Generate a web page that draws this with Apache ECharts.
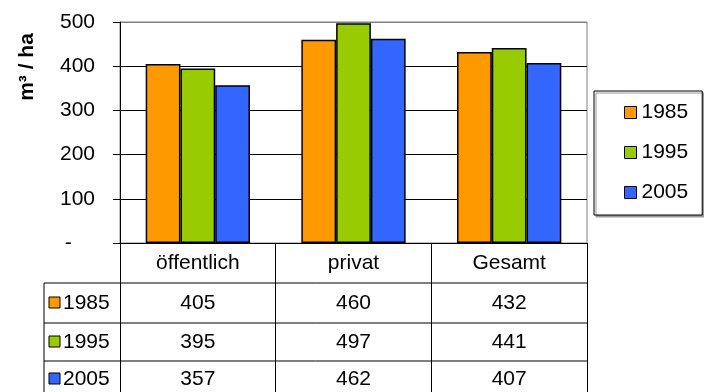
<!DOCTYPE html>
<html>
<head>
<meta charset="utf-8">
<script src="https://cdn.jsdelivr.net/npm/echarts@6/dist/echarts.min.js"></script>
<style>
  html, body { margin: 0; padding: 0; background: #fff; }
  #main { width: 704px; height: 392px; }
</style>
</head>
<body>
<div id="main"></div>
<script>
const categories = ['öffentlich', 'privat', 'Gesamt'];
const years = ['1985', '1995', '2005'];
const values1985 = [405, 460, 432];
const values1995 = [395, 497, 441];
const values2005 = [357, 462, 407];
const colors = ['#FF9900', '#99CC00', '#3366FF'];

const FONT = 'Liberation Sans, Arial, sans-serif';
const seriesValues = [values1985, values1995, values2005];

// table layout (rows under the plot)
const tableLeft = 44;
const tableRight = 587;
const rowLines = [283, 323, 361];
const rowCenters = [303, 342, 379];

const chart = echarts.init(document.getElementById('main'));

const option = {
  animation: false,
  textStyle: { fontFamily: FONT },
  color: colors,
  grid: {
    left: 120,
    right: 117,
    top: 22,
    bottom: 149,
    show: true,
    borderColor: '#808080',
    borderWidth: 1,
  },
  legend: {
    orient: 'vertical',
    left: 594,
    top: 91,
    padding: [11, 14, 12, 30],
    icon: 'rect',
    itemWidth: 12,
    itemHeight: 12,
    itemGap: 19,
    borderColor: '#000',
    borderWidth: 1,
    backgroundColor: '#fff',
    shadowColor: '#999',
    shadowOffsetX: 2,
    shadowOffsetY: 2,
    textStyle: { fontSize: 21, color: '#000', lineHeight: 21, fontFamily: FONT },
    itemStyle: { borderColor: '#000', borderWidth: 1 },
    data: years,
  },
  xAxis: {
    type: 'category',
    data: categories,
    axisLine: { lineStyle: { color: '#000', width: 1 } },
    axisTick: { show: true, length: 150, lineStyle: { color: '#000' } },
    axisLabel: {
      fontSize: 21,
      color: '#000',
      fontFamily: FONT,
      margin: 20,
      verticalAlign: 'middle',
    },
  },
  yAxis: {
    type: 'value',
    min: 0,
    max: 500,
    interval: 100,
    axisLine: { show: true, lineStyle: { color: '#000' } },
    axisTick: { show: true, length: 7, lineStyle: { color: '#000' } },
    axisLabel: {
      fontSize: 21,
      color: '#000',
      fontFamily: FONT,
      margin: 25,
      formatter: v => (v === 0 ? '-    ' : String(v)),
    },
    splitLine: {
      lineStyle: { color: ['#000', '#000', '#000', '#000', '#000', '#808080'], width: 1 },
    },
  },
  series: years.map((y, i) => ({
    name: y,
    type: 'bar',
    data: seriesValues[i],
    barGap: 0,
    barCategoryGap: '33%',
    itemStyle: { color: colors[i], borderColor: '#000', borderWidth: 1.5 },
  })),
};

chart.setOption(option);

// build the data table below the plot
const elements = [];
elements.push({
  type: 'text',
  x: 27,
  y: 67,
  rotation: Math.PI / 2,
  style: {
    text: 'm³ / ha',
    font: 'bold 21px ' + FONT,
    fill: '#000',
    align: 'center',
    verticalAlign: 'middle',
  },
});
rowLines.forEach(ly => {
  elements.push({
    type: 'line',
    shape: { x1: tableLeft, y1: ly, x2: tableRight, y2: ly },
    style: { stroke: '#000', lineWidth: 1 },
  });
});
elements.push({
  type: 'line',
  shape: { x1: tableLeft, y1: rowLines[0], x2: tableLeft, y2: 392 },
  style: { stroke: '#000', lineWidth: 1 },
});
years.forEach((y, r) => {
  const cy = rowCenters[r];
  elements.push({
    type: 'rect',
    shape: { x: 49, y: cy - 6, width: 11, height: 11 },
    style: { fill: colors[r], stroke: '#000', lineWidth: 1 },
  });
  elements.push({
    type: 'text',
    x: 63,
    y: cy,
    style: { text: y, font: '21px ' + FONT, fill: '#000', align: 'left', verticalAlign: 'middle' },
  });
  categories.forEach((c, ci) => {
    const cx = chart.convertToPixel({ xAxisIndex: 0 }, ci);
    elements.push({
      type: 'text',
      x: cx,
      y: cy,
      style: {
        text: String(seriesValues[r][ci]),
        font: '21px ' + FONT,
        fill: '#000',
        align: 'center',
        verticalAlign: 'middle',
      },
    });
  });
});

chart.setOption({ graphic: elements });
</script>
</body>
</html>
